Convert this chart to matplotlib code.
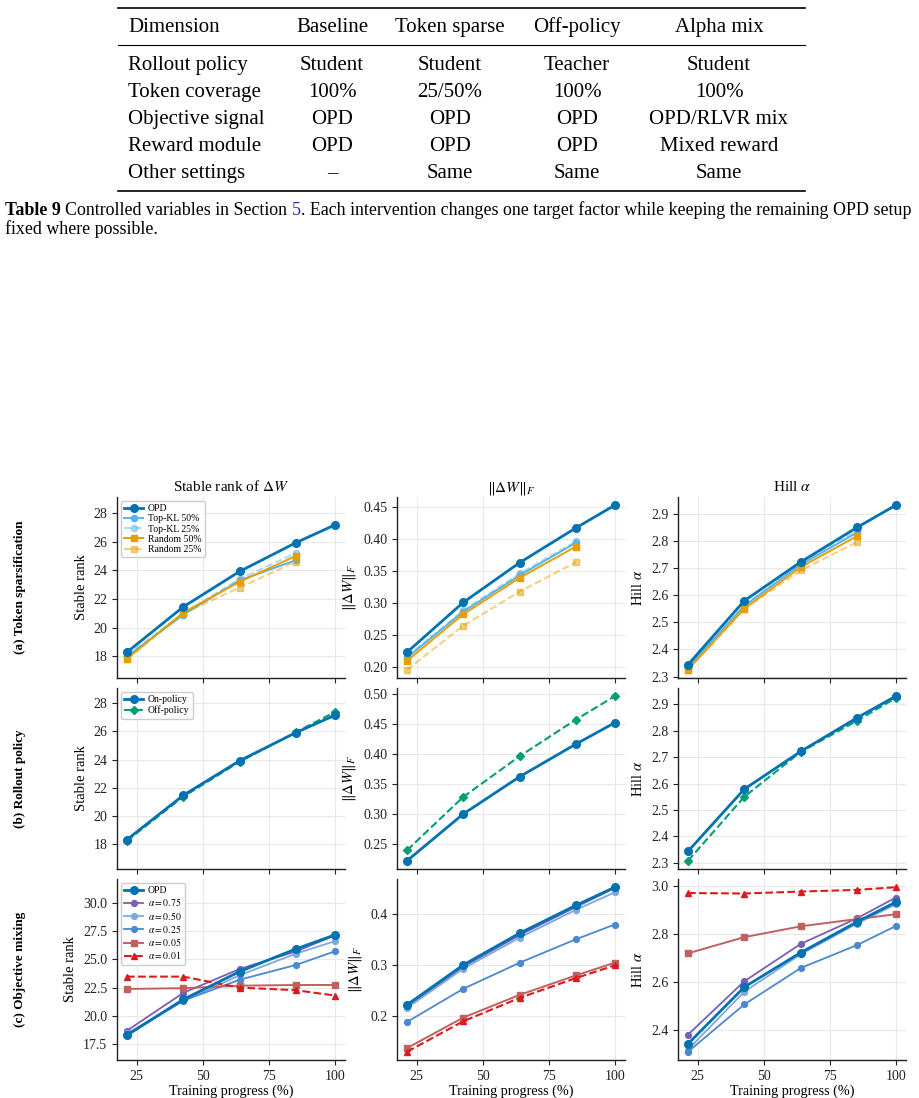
import matplotlib.pyplot as plt
from matplotlib.lines import Line2D
from matplotlib.ticker import MultipleLocator

plt.rcParams["font.family"] = ["Liberation Serif", "DejaVu Serif"]
plt.rcParams["mathtext.fontset"] = "stix"
plt.rcParams["axes.unicode_minus"] = False

W, H = 920, 1098

# ---- table data ----
table_header = ["Dimension", "Baseline", "Token sparse", "Off-policy", "Alpha mix"]
table_rows = [
    ["Rollout policy", "Student", "Student", "Teacher", "Student"],
    ["Token coverage", "100%", "25/50%", "100%", "100%"],
    ["Objective signal", "OPD", "OPD", "OPD", "OPD/RLVR mix"],
    ["Reward module", "OPD", "OPD", "OPD", "Mixed reward"],
    ["Other settings", "\u2013", "Same", "Same", "Same"],
]

# ---- chart data ----
progress = [21.3, 42.6, 64.0, 85.3, 100.0]
progress_sparse = progress[:4]

# OPD baseline (shared across rows)
opd_rank = [18.3, 21.45, 23.92, 25.92, 27.15]
opd_frob = [0.2225, 0.3005, 0.3628, 0.4172, 0.4527]
opd_hill = [2.344, 2.579, 2.722, 2.849, 2.931]

# (a) token sparsification
topkl50_rank = [18.0, 20.9, 23.3, 24.7]
topkl25_rank = [18.1, 21.0, 23.4, 25.2]
rand50_rank = [17.85, 21.05, 23.2, 25.0]
rand25_rank = [17.8, 21.0, 22.8, 24.6]
topkl50_frob = [0.214, 0.286, 0.343, 0.394]
topkl25_frob = [0.216, 0.288, 0.346, 0.396]
rand50_frob = [0.209, 0.282, 0.339, 0.388]
rand25_frob = [0.195, 0.264, 0.3175, 0.3635]
topkl50_hill = [2.335, 2.56, 2.712, 2.83]
topkl25_hill = [2.338, 2.562, 2.716, 2.838]
rand50_hill = [2.326, 2.55, 2.703, 2.817]
rand25_hill = [2.325, 2.548, 2.691, 2.795]

# (b) rollout policy
off_rank = [18.22, 21.35, 23.85, 25.95, 27.38]
off_frob = [0.240, 0.329, 0.397, 0.458, 0.497]
off_hill = [2.308, 2.55, 2.72, 2.838, 2.924]

# (c) objective mixing
a075_rank = [18.7, 22.03, 24.15, 25.7, 27.1]
a050_rank = [18.45, 21.3, 23.6, 25.5, 26.6]
a025_rank = [18.3, 21.35, 23.2, 24.5, 25.7]
a005_rank = [22.38, 22.45, 22.67, 22.73, 22.73]
a001_rank = [23.47, 23.47, 22.5, 22.27, 21.8]
a075_frob = [0.219, 0.297, 0.359, 0.414, 0.451]
a050_frob = [0.2164, 0.2931, 0.354, 0.4085, 0.4426]
a025_frob = [0.1889, 0.2538, 0.3049, 0.3508, 0.3797]
a005_frob = [0.1377, 0.1974, 0.242, 0.280, 0.3049]
a001_frob = [0.1305, 0.1902, 0.236, 0.2748, 0.2997]
a075_hill = [2.382, 2.603, 2.758, 2.864, 2.950]
a050_hill = [2.320, 2.560, 2.715, 2.842, 2.922]
a025_hill = [2.311, 2.507, 2.658, 2.753, 2.832]
a005_hill = [2.719, 2.786, 2.831, 2.861, 2.881]
a001_hill = [2.969, 2.967, 2.975, 2.982, 2.993]

col_titles = [r"Stable rank of $\Delta W$", r"$\|\Delta W\|_F$", r"Hill $\alpha$"]
col_ylabels = ["Stable rank", r"$\|\Delta W\|_F$", r"Hill $\alpha$"]
row_labels = ["(a) Token sparsification", "(b) Rollout policy", "(c) Objective mixing"]
x_ticks = [25, 50, 75, 100]
y_steps = [[2, 0.05, 0.1], [2, 0.05, 0.1], [2.5, 0.1, 0.2]]

# ---- styles ----
BLUE = "#0072B2"
SKY = "#56B4E9"
ORANGE = "#E69F00"
GREEN = "#009E73"
style_opd = dict(color=BLUE, marker="o", ms=5.5, lw=2.0, zorder=5)
style_tk50 = dict(color=SKY, marker="o", ms=4.5, lw=1.4)
style_tk25 = dict(color=SKY, marker="o", ms=4.5, lw=1.4, ls="--", alpha=0.5)
style_r50 = dict(color=ORANGE, marker="s", ms=4.5, lw=1.4)
style_r25 = dict(color=ORANGE, marker="s", ms=4.5, lw=1.4, ls="--", alpha=0.5)
style_off = dict(color=GREEN, marker="D", ms=4.2, lw=1.5, ls="--")
style_a075 = dict(color="#7b5fb6", marker="o", ms=4.2, lw=1.3)
style_a050 = dict(color="#7ea9dc", marker="o", ms=4.2, lw=1.3)
style_a025 = dict(color="#4b89cf", marker="o", ms=4.2, lw=1.3)
style_a005 = dict(color="#c0605f", marker="s", ms=4.5, lw=1.4)
style_a001 = dict(color="#e0181b", marker="^", ms=4.8, lw=1.5, ls="--")

panels = [
    [
        [("OPD", progress, opd_rank, style_opd),
         ("Top-KL 50%", progress_sparse, topkl50_rank, style_tk50),
         ("Top-KL 25%", progress_sparse, topkl25_rank, style_tk25),
         ("Random 50%", progress_sparse, rand50_rank, style_r50),
         ("Random 25%", progress_sparse, rand25_rank, style_r25)],
        [("OPD", progress, opd_frob, style_opd),
         ("Top-KL 50%", progress_sparse, topkl50_frob, style_tk50),
         ("Top-KL 25%", progress_sparse, topkl25_frob, style_tk25),
         ("Random 50%", progress_sparse, rand50_frob, style_r50),
         ("Random 25%", progress_sparse, rand25_frob, style_r25)],
        [("OPD", progress, opd_hill, style_opd),
         ("Top-KL 50%", progress_sparse, topkl50_hill, style_tk50),
         ("Top-KL 25%", progress_sparse, topkl25_hill, style_tk25),
         ("Random 50%", progress_sparse, rand50_hill, style_r50),
         ("Random 25%", progress_sparse, rand25_hill, style_r25)],
    ],
    [
        [("On-policy", progress, opd_rank, style_opd),
         ("Off-policy", progress, off_rank, style_off)],
        [("On-policy", progress, opd_frob, style_opd),
         ("Off-policy", progress, off_frob, style_off)],
        [("On-policy", progress, opd_hill, style_opd),
         ("Off-policy", progress, off_hill, style_off)],
    ],
    [
        [("OPD", progress, opd_rank, style_opd),
         (r"$\alpha=0.75$", progress, a075_rank, style_a075),
         (r"$\alpha=0.50$", progress, a050_rank, style_a050),
         (r"$\alpha=0.25$", progress, a025_rank, style_a025),
         (r"$\alpha=0.05$", progress, a005_rank, style_a005),
         (r"$\alpha=0.01$", progress, a001_rank, style_a001)],
        [("OPD", progress, opd_frob, style_opd),
         (r"$\alpha=0.75$", progress, a075_frob, style_a075),
         (r"$\alpha=0.50$", progress, a050_frob, style_a050),
         (r"$\alpha=0.25$", progress, a025_frob, style_a025),
         (r"$\alpha=0.05$", progress, a005_frob, style_a005),
         (r"$\alpha=0.01$", progress, a001_frob, style_a001)],
        [("OPD", progress, opd_hill, style_opd),
         (r"$\alpha=0.75$", progress, a075_hill, style_a075),
         (r"$\alpha=0.50$", progress, a050_hill, style_a050),
         (r"$\alpha=0.25$", progress, a025_hill, style_a025),
         (r"$\alpha=0.05$", progress, a005_hill, style_a005),
         (r"$\alpha=0.01$", progress, a001_hill, style_a001)],
    ],
]
rank_ylims = [(16.5, 29.1), (16.2, 29.1), (16.1, 32.1)]


def fx(px):
    return px / W


def fy(py):
    return 1.0 - py / H


fig = plt.figure(figsize=(W / 100, H / 100), dpi=100)
renderer = fig.canvas.get_renderer()

# ---- table ----
rule_x = [fx(118), fx(805)]
fig.add_artist(Line2D(rule_x, [fy(8), fy(8)], transform=fig.transFigure, color="black", lw=1.2))
fig.add_artist(Line2D(rule_x, [fy(45), fy(45)], transform=fig.transFigure, color="black", lw=0.8))
fig.add_artist(Line2D(rule_x, [fy(191), fy(191)], transform=fig.transFigure, color="black", lw=1.2))

col_centers = [332, 450, 577, 719]
row_baselines = [32, 70, 97, 124, 151, 178]
for r, cells in enumerate([table_header] + table_rows):
    yb = fy(row_baselines[r])
    fig.text(fx(128), yb, cells[0], fontsize=15, ha="left", va="baseline")
    for c, cell in enumerate(cells[1:]):
        fig.text(fx(col_centers[c]), yb, cell, fontsize=15, ha="center", va="baseline")

# ---- caption ----
caption_runs = [
    ("Table 9 ", dict(fontweight="bold")),
    ("Controlled variables in Section ", {}),
    ("5", dict(color="#2a2aa8")),
    (". Each intervention changes one target factor while keeping the remaining OPD setup", {}),
]
x = fx(5)
for text, kw in caption_runs:
    t = fig.text(x, fy(215), text, fontsize=12.9, va="baseline", ha="left", **kw)
    x += t.get_window_extent(renderer).width / fig.bbox.width
fig.text(fx(5), fy(234), "fixed where possible.", fontsize=12.9, va="baseline", ha="left")

# ---- grid of panels ----
col_left = [117, 397, 678]
ax_w = 228
row_top = [497, 688, 879]
ax_h = 181

for r in range(3):
    for c in range(3):
        ax = fig.add_axes([fx(col_left[c]), fy(row_top[r] + ax_h), ax_w / W, ax_h / H])
        for label, xs, ys, st in panels[r][c]:
            ax.plot(xs, ys, label=label, **st)
        ax.set_xticks(x_ticks)
        ax.set_xlim(17.5, 103.9)
        ax.yaxis.set_major_locator(MultipleLocator(y_steps[r][c]))
        ax.grid(True, color="#e9e9e9", lw=0.8)
        ax.set_axisbelow(True)
        for side in ("top", "right"):
            ax.spines[side].set_visible(False)
        for side in ("left", "bottom"):
            ax.spines[side].set_linewidth(1.0)
            ax.spines[side].set_color("#222222")
        ax.tick_params(direction="out", length=3.5, width=0.8, labelsize=10, colors="#222222")
        ax.set_ylabel(col_ylabels[c], fontsize=10.5, labelpad=4)
        if c == 0:
            ax.set_ylim(*rank_ylims[r])
            ax.legend(loc="upper left", fontsize=7, frameon=True, edgecolor="#cccccc",
                      framealpha=1.0, borderpad=0.35, labelspacing=0.12, handlelength=1.9,
                      handletextpad=0.5, borderaxespad=0.4)
        if r == 0:
            ax.set_title(col_titles[c], fontsize=11, pad=4)
        if r < 2:
            ax.tick_params(labelbottom=False)
        else:
            ax.set_xlabel("Training progress (%)", fontsize=10.2, labelpad=1)

for r in range(3):
    fig.text(fx(20), fy(row_top[r] + ax_h / 2), row_labels[r], rotation=90,
             fontsize=9.5, fontweight="bold", ha="center", va="center")

fig.savefig("out.png", dpi=100)
